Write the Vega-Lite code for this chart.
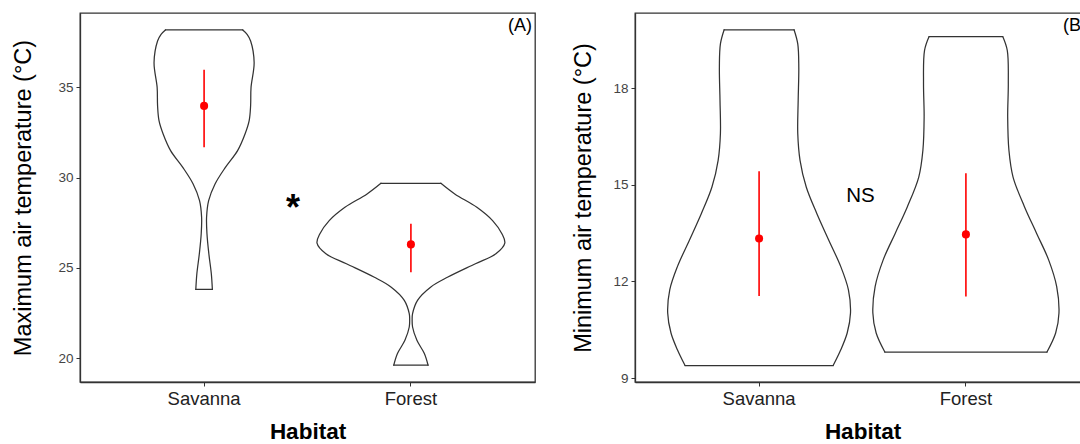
{
  "$schema": "https://vega.github.io/schema/vega-lite/v6.json",
  "padding": {"left": 11, "top": 12, "right": 0, "bottom": 0},
  "background": "white",
  "spacing": 35,
  "config": {
    "font": "Liberation Sans",
    "view": {"stroke": "#333333", "strokeWidth": 1.3},
    "axis": {"grid": false, "domainColor": "#333333", "domainWidth": 1.3, "tickColor": "#333333", "tickSize": 4, "tickWidth": 1},
    "axisX": {"labelFontSize": 18.5, "labelColor": "#222222", "labelPadding": 3, "titleFontSize": 22.5, "titleFontWeight": "bold", "titleColor": "#000000", "titlePadding": 13, "labelAngle": 0},
    "axisY": {"labelFontSize": 13.5, "labelColor": "#444444", "labelPadding": 3, "titleFontSize": 23.5, "titleFontWeight": "normal", "titleColor": "#000000"}
  },
  "datasets": {
    "violinA": [
      {"habitat": "Savanna", "part": "R", "temp": 23.80, "w": 0.040},
      {"habitat": "Savanna", "part": "R", "temp": 24.67, "w": 0.035},
      {"habitat": "Savanna", "part": "R", "temp": 25.78, "w": 0.023},
      {"habitat": "Savanna", "part": "R", "temp": 26.88, "w": 0.014},
      {"habitat": "Savanna", "part": "R", "temp": 27.80, "w": 0.012},
      {"habitat": "Savanna", "part": "R", "temp": 28.73, "w": 0.022},
      {"habitat": "Savanna", "part": "R", "temp": 29.65, "w": 0.053},
      {"habitat": "Savanna", "part": "R", "temp": 30.57, "w": 0.103},
      {"habitat": "Savanna", "part": "R", "temp": 31.50, "w": 0.162},
      {"habitat": "Savanna", "part": "R", "temp": 32.42, "w": 0.198},
      {"habitat": "Savanna", "part": "R", "temp": 33.16, "w": 0.218},
      {"habitat": "Savanna", "part": "R", "temp": 34.00, "w": 0.225},
      {"habitat": "Savanna", "part": "R", "temp": 35.00, "w": 0.227},
      {"habitat": "Savanna", "part": "R", "temp": 36.38, "w": 0.242},
      {"habitat": "Savanna", "part": "R", "temp": 37.58, "w": 0.225},
      {"habitat": "Savanna", "part": "R", "temp": 37.95, "w": 0.208},
      {"habitat": "Savanna", "part": "R", "temp": 38.19, "w": 0.187},
      {"habitat": "Savanna", "part": "L", "temp": 23.80, "w": -0.040},
      {"habitat": "Savanna", "part": "L", "temp": 24.67, "w": -0.035},
      {"habitat": "Savanna", "part": "L", "temp": 25.78, "w": -0.023},
      {"habitat": "Savanna", "part": "L", "temp": 26.88, "w": -0.014},
      {"habitat": "Savanna", "part": "L", "temp": 27.80, "w": -0.012},
      {"habitat": "Savanna", "part": "L", "temp": 28.73, "w": -0.022},
      {"habitat": "Savanna", "part": "L", "temp": 29.65, "w": -0.053},
      {"habitat": "Savanna", "part": "L", "temp": 30.57, "w": -0.103},
      {"habitat": "Savanna", "part": "L", "temp": 31.50, "w": -0.162},
      {"habitat": "Savanna", "part": "L", "temp": 32.42, "w": -0.198},
      {"habitat": "Savanna", "part": "L", "temp": 33.16, "w": -0.218},
      {"habitat": "Savanna", "part": "L", "temp": 34.00, "w": -0.225},
      {"habitat": "Savanna", "part": "L", "temp": 35.00, "w": -0.227},
      {"habitat": "Savanna", "part": "L", "temp": 36.38, "w": -0.242},
      {"habitat": "Savanna", "part": "L", "temp": 37.58, "w": -0.225},
      {"habitat": "Savanna", "part": "L", "temp": 37.95, "w": -0.208},
      {"habitat": "Savanna", "part": "L", "temp": 38.19, "w": -0.187},
      {"habitat": "Savanna", "part": "T", "temp": 38.19, "w": -0.187},
      {"habitat": "Savanna", "part": "T", "temp": 38.19, "w": 0.187},
      {"habitat": "Savanna", "part": "B", "temp": 23.80, "w": -0.040},
      {"habitat": "Savanna", "part": "B", "temp": 23.80, "w": 0.040},
      {"habitat": "Forest", "part": "R", "temp": 19.60, "w": 0.083},
      {"habitat": "Forest", "part": "R", "temp": 20.25, "w": 0.065},
      {"habitat": "Forest", "part": "R", "temp": 20.98, "w": 0.029},
      {"habitat": "Forest", "part": "R", "temp": 21.72, "w": 0.008},
      {"habitat": "Forest", "part": "R", "temp": 22.10, "w": 0.006},
      {"habitat": "Forest", "part": "R", "temp": 22.46, "w": 0.008},
      {"habitat": "Forest", "part": "R", "temp": 23.20, "w": 0.032},
      {"habitat": "Forest", "part": "R", "temp": 23.93, "w": 0.095},
      {"habitat": "Forest", "part": "R", "temp": 24.49, "w": 0.179},
      {"habitat": "Forest", "part": "R", "temp": 25.23, "w": 0.312},
      {"habitat": "Forest", "part": "R", "temp": 25.78, "w": 0.411},
      {"habitat": "Forest", "part": "R", "temp": 26.37, "w": 0.454},
      {"habitat": "Forest", "part": "R", "temp": 26.89, "w": 0.440},
      {"habitat": "Forest", "part": "R", "temp": 27.62, "w": 0.395},
      {"habitat": "Forest", "part": "R", "temp": 28.36, "w": 0.319},
      {"habitat": "Forest", "part": "R", "temp": 29.10, "w": 0.212},
      {"habitat": "Forest", "part": "R", "temp": 29.69, "w": 0.145},
      {"habitat": "Forest", "part": "L", "temp": 19.60, "w": -0.083},
      {"habitat": "Forest", "part": "L", "temp": 20.25, "w": -0.065},
      {"habitat": "Forest", "part": "L", "temp": 20.98, "w": -0.029},
      {"habitat": "Forest", "part": "L", "temp": 21.72, "w": -0.008},
      {"habitat": "Forest", "part": "L", "temp": 22.10, "w": -0.006},
      {"habitat": "Forest", "part": "L", "temp": 22.46, "w": -0.008},
      {"habitat": "Forest", "part": "L", "temp": 23.20, "w": -0.032},
      {"habitat": "Forest", "part": "L", "temp": 23.93, "w": -0.095},
      {"habitat": "Forest", "part": "L", "temp": 24.49, "w": -0.179},
      {"habitat": "Forest", "part": "L", "temp": 25.23, "w": -0.312},
      {"habitat": "Forest", "part": "L", "temp": 25.78, "w": -0.411},
      {"habitat": "Forest", "part": "L", "temp": 26.37, "w": -0.454},
      {"habitat": "Forest", "part": "L", "temp": 26.89, "w": -0.440},
      {"habitat": "Forest", "part": "L", "temp": 27.62, "w": -0.395},
      {"habitat": "Forest", "part": "L", "temp": 28.36, "w": -0.319},
      {"habitat": "Forest", "part": "L", "temp": 29.10, "w": -0.212},
      {"habitat": "Forest", "part": "L", "temp": 29.69, "w": -0.145},
      {"habitat": "Forest", "part": "T", "temp": 29.69, "w": -0.145},
      {"habitat": "Forest", "part": "T", "temp": 29.69, "w": 0.145},
      {"habitat": "Forest", "part": "B", "temp": 19.60, "w": -0.083},
      {"habitat": "Forest", "part": "B", "temp": 19.60, "w": 0.083}
    ],
    "violinB": [
      {"habitat": "Savanna", "part": "R", "temp": 9.39, "w": 0.358},
      {"habitat": "Savanna", "part": "R", "temp": 9.88, "w": 0.395},
      {"habitat": "Savanna", "part": "R", "temp": 10.40, "w": 0.426},
      {"habitat": "Savanna", "part": "R", "temp": 11.02, "w": 0.442},
      {"habitat": "Savanna", "part": "R", "temp": 11.74, "w": 0.432},
      {"habitat": "Savanna", "part": "R", "temp": 12.46, "w": 0.395},
      {"habitat": "Savanna", "part": "R", "temp": 13.28, "w": 0.337},
      {"habitat": "Savanna", "part": "R", "temp": 14.11, "w": 0.279},
      {"habitat": "Savanna", "part": "R", "temp": 14.93, "w": 0.228},
      {"habitat": "Savanna", "part": "R", "temp": 15.76, "w": 0.198},
      {"habitat": "Savanna", "part": "R", "temp": 16.59, "w": 0.187},
      {"habitat": "Savanna", "part": "R", "temp": 17.62, "w": 0.189},
      {"habitat": "Savanna", "part": "R", "temp": 18.65, "w": 0.192},
      {"habitat": "Savanna", "part": "R", "temp": 19.37, "w": 0.187},
      {"habitat": "Savanna", "part": "R", "temp": 19.81, "w": 0.169},
      {"habitat": "Savanna", "part": "L", "temp": 9.39, "w": -0.358},
      {"habitat": "Savanna", "part": "L", "temp": 9.88, "w": -0.395},
      {"habitat": "Savanna", "part": "L", "temp": 10.40, "w": -0.426},
      {"habitat": "Savanna", "part": "L", "temp": 11.02, "w": -0.442},
      {"habitat": "Savanna", "part": "L", "temp": 11.74, "w": -0.432},
      {"habitat": "Savanna", "part": "L", "temp": 12.46, "w": -0.395},
      {"habitat": "Savanna", "part": "L", "temp": 13.28, "w": -0.337},
      {"habitat": "Savanna", "part": "L", "temp": 14.11, "w": -0.279},
      {"habitat": "Savanna", "part": "L", "temp": 14.93, "w": -0.228},
      {"habitat": "Savanna", "part": "L", "temp": 15.76, "w": -0.198},
      {"habitat": "Savanna", "part": "L", "temp": 16.59, "w": -0.187},
      {"habitat": "Savanna", "part": "L", "temp": 17.62, "w": -0.189},
      {"habitat": "Savanna", "part": "L", "temp": 18.65, "w": -0.192},
      {"habitat": "Savanna", "part": "L", "temp": 19.37, "w": -0.187},
      {"habitat": "Savanna", "part": "L", "temp": 19.81, "w": -0.169},
      {"habitat": "Savanna", "part": "T", "temp": 19.81, "w": -0.169},
      {"habitat": "Savanna", "part": "T", "temp": 19.81, "w": 0.169},
      {"habitat": "Savanna", "part": "B", "temp": 9.39, "w": -0.358},
      {"habitat": "Savanna", "part": "B", "temp": 9.39, "w": 0.358},
      {"habitat": "Forest", "part": "R", "temp": 9.81, "w": 0.392},
      {"habitat": "Forest", "part": "R", "temp": 10.40, "w": 0.434},
      {"habitat": "Forest", "part": "R", "temp": 11.02, "w": 0.450},
      {"habitat": "Forest", "part": "R", "temp": 11.84, "w": 0.439},
      {"habitat": "Forest", "part": "R", "temp": 12.67, "w": 0.400},
      {"habitat": "Forest", "part": "R", "temp": 13.49, "w": 0.342},
      {"habitat": "Forest", "part": "R", "temp": 14.32, "w": 0.283},
      {"habitat": "Forest", "part": "R", "temp": 15.24, "w": 0.228},
      {"habitat": "Forest", "part": "R", "temp": 16.07, "w": 0.208},
      {"habitat": "Forest", "part": "R", "temp": 17.10, "w": 0.202},
      {"habitat": "Forest", "part": "R", "temp": 18.14, "w": 0.205},
      {"habitat": "Forest", "part": "R", "temp": 19.17, "w": 0.200},
      {"habitat": "Forest", "part": "R", "temp": 19.60, "w": 0.178},
      {"habitat": "Forest", "part": "L", "temp": 9.81, "w": -0.392},
      {"habitat": "Forest", "part": "L", "temp": 10.40, "w": -0.434},
      {"habitat": "Forest", "part": "L", "temp": 11.02, "w": -0.450},
      {"habitat": "Forest", "part": "L", "temp": 11.84, "w": -0.439},
      {"habitat": "Forest", "part": "L", "temp": 12.67, "w": -0.400},
      {"habitat": "Forest", "part": "L", "temp": 13.49, "w": -0.342},
      {"habitat": "Forest", "part": "L", "temp": 14.32, "w": -0.283},
      {"habitat": "Forest", "part": "L", "temp": 15.24, "w": -0.228},
      {"habitat": "Forest", "part": "L", "temp": 16.07, "w": -0.208},
      {"habitat": "Forest", "part": "L", "temp": 17.10, "w": -0.202},
      {"habitat": "Forest", "part": "L", "temp": 18.14, "w": -0.205},
      {"habitat": "Forest", "part": "L", "temp": 19.17, "w": -0.200},
      {"habitat": "Forest", "part": "L", "temp": 19.60, "w": -0.178},
      {"habitat": "Forest", "part": "T", "temp": 19.60, "w": -0.178},
      {"habitat": "Forest", "part": "T", "temp": 19.60, "w": 0.178},
      {"habitat": "Forest", "part": "B", "temp": 9.81, "w": -0.392},
      {"habitat": "Forest", "part": "B", "temp": 9.81, "w": 0.392}
    ],
    "statsA": [
      {"habitat": "Savanna", "mean": 33.98, "lo": 31.68, "hi": 35.98},
      {"habitat": "Forest", "mean": 26.30, "lo": 24.75, "hi": 27.45}
    ],
    "statsB": [
      {"habitat": "Savanna", "mean": 13.33, "lo": 11.55, "hi": 15.42},
      {"habitat": "Forest", "mean": 13.46, "lo": 11.53, "hi": 15.36}
    ],
    "sigA": [{"habitat": "Savanna", "dx": 0.43, "temp": 27.68, "label": "*"}],
    "sigB": [{"habitat": "Savanna", "dx": 0.49, "temp": 14.65, "label": "NS"}],
    "tagA": [{"habitat": "Forest", "dx": 0.527, "temp": 38.39, "label": "(A)"}],
    "tagB": [{"habitat": "Forest", "dx": 0.527, "temp": 19.93, "label": "(B)"}]
  },
  "hconcat": [
    {
      "width": 455,
      "height": 369,
      "layer": [
        {
          "data": {"name": "violinA"},
          "mark": {"type": "line", "stroke": "#333333", "strokeWidth": 1.25, "strokeJoin": "round", "strokeCap": "round", "interpolate": "catmull-rom"},
          "encoding": {
            "x": {"field": "habitat", "type": "nominal", "title": "Habitat", "scale": {"type": "band", "domain": ["Savanna", "Forest"], "paddingInner": 1, "paddingOuter": 0.6}},
            "xOffset": {"field": "w", "type": "quantitative", "scale": {"domain": [-1, 1], "range": [-206.8, 206.8]}},
            "y": {"field": "temp", "type": "quantitative", "title": "Maximum air temperature (°C)", "scale": {"domain": [18.67, 39.13], "nice": false, "zero": false}, "axis": {"values": [20, 25, 30, 35], "titlePadding": 22}},
            "detail": [{"field": "habitat"}, {"field": "part"}],
            "order": {"field": "temp", "type": "quantitative"}
          }
        },
        {
          "data": {"name": "statsA"},
          "mark": {"type": "rule", "color": "#ff0000", "strokeWidth": 1.6},
          "encoding": {
            "x": {"field": "habitat", "type": "nominal", "title": "Habitat"},
            "y": {"field": "lo", "type": "quantitative", "title": "Maximum air temperature (°C)"},
            "y2": {"field": "hi"}
          }
        },
        {
          "data": {"name": "statsA"},
          "mark": {"type": "point", "filled": true, "color": "#ff0000", "size": 65, "opacity": 1},
          "encoding": {
            "x": {"field": "habitat", "type": "nominal", "title": "Habitat"},
            "y": {"field": "mean", "type": "quantitative", "title": "Maximum air temperature (°C)"}
          }
        },
        {
          "data": {"name": "sigA"},
          "mark": {"type": "text", "fontSize": 36, "fontWeight": "bold", "baseline": "alphabetic", "align": "center", "color": "#000000"},
          "encoding": {
            "x": {"field": "habitat", "type": "nominal", "title": "Habitat"},
            "xOffset": {"field": "dx", "type": "quantitative"},
            "y": {"field": "temp", "type": "quantitative", "title": "Maximum air temperature (°C)"},
            "text": {"field": "label"}
          }
        },
        {
          "data": {"name": "tagA"},
          "mark": {"type": "text", "fontSize": 18, "baseline": "middle", "align": "center", "color": "#000000"},
          "encoding": {
            "x": {"field": "habitat", "type": "nominal", "title": "Habitat"},
            "xOffset": {"field": "dx", "type": "quantitative"},
            "y": {"field": "temp", "type": "quantitative", "title": "Maximum air temperature (°C)"},
            "text": {"field": "label"}
          }
        }
      ]
    },
    {
      "width": 455,
      "height": 369,
      "layer": [
        {
          "data": {"name": "violinB"},
          "mark": {"type": "line", "stroke": "#333333", "strokeWidth": 1.25, "strokeJoin": "round", "strokeCap": "round", "interpolate": "catmull-rom"},
          "encoding": {
            "x": {"field": "habitat", "type": "nominal", "title": "Habitat", "scale": {"type": "band", "domain": ["Savanna", "Forest"], "paddingInner": 1, "paddingOuter": 0.6}},
            "xOffset": {"field": "w", "type": "quantitative", "scale": {"domain": [-1, 1], "range": [-206.8, 206.8]}},
            "y": {"field": "temp", "type": "quantitative", "title": "Minimum air temperature (°C)", "scale": {"domain": [8.88, 20.33], "nice": false, "zero": false}, "axis": {"values": [9, 12, 15, 18], "titlePadding": 17}},
            "detail": [{"field": "habitat"}, {"field": "part"}],
            "order": {"field": "temp", "type": "quantitative"}
          }
        },
        {
          "data": {"name": "statsB"},
          "mark": {"type": "rule", "color": "#ff0000", "strokeWidth": 1.6},
          "encoding": {
            "x": {"field": "habitat", "type": "nominal", "title": "Habitat"},
            "y": {"field": "lo", "type": "quantitative", "title": "Minimum air temperature (°C)"},
            "y2": {"field": "hi"}
          }
        },
        {
          "data": {"name": "statsB"},
          "mark": {"type": "point", "filled": true, "color": "#ff0000", "size": 65, "opacity": 1},
          "encoding": {
            "x": {"field": "habitat", "type": "nominal", "title": "Habitat"},
            "y": {"field": "mean", "type": "quantitative", "title": "Minimum air temperature (°C)"}
          }
        },
        {
          "data": {"name": "sigB"},
          "mark": {"type": "text", "fontSize": 20.5, "baseline": "middle", "align": "center", "color": "#000000"},
          "encoding": {
            "x": {"field": "habitat", "type": "nominal", "title": "Habitat"},
            "xOffset": {"field": "dx", "type": "quantitative"},
            "y": {"field": "temp", "type": "quantitative", "title": "Minimum air temperature (°C)"},
            "text": {"field": "label"}
          }
        },
        {
          "data": {"name": "tagB"},
          "mark": {"type": "text", "fontSize": 18, "baseline": "middle", "align": "center", "color": "#000000"},
          "encoding": {
            "x": {"field": "habitat", "type": "nominal", "title": "Habitat"},
            "xOffset": {"field": "dx", "type": "quantitative"},
            "y": {"field": "temp", "type": "quantitative", "title": "Minimum air temperature (°C)"},
            "text": {"field": "label"}
          }
        }
      ]
    }
  ]
}
